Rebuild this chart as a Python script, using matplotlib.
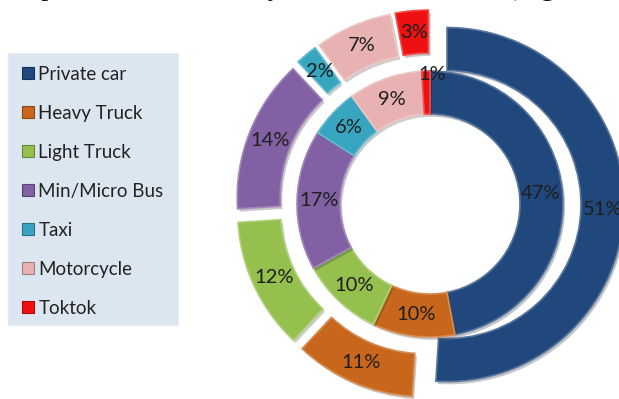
import matplotlib
matplotlib.use("Agg")
import matplotlib.pyplot as plt
import matplotlib.patheffects as pe
from matplotlib.patches import Patch, Rectangle
from matplotlib.colors import to_rgb

# Vehicle classes and their shares (%) in the two rings
categories = ["Private car", "Heavy Truck", "Light Truck", "Min/Micro Bus",
              "Taxi", "Motorcycle", "Toktok"]
outer_share = [51, 11, 12, 14, 2, 7, 3]
inner_share = [47, 10, 10, 17, 6, 9, 1]
colors = ["#21487c", "#c8671b", "#95c04e", "#8160a4",
          "#37a5c0", "#e8b2b2", "#ee1111"]
caption = ", represented in motorcycle, toktok and taxi (Figure"


def tint(c, f):
    r, g, b = to_rgb(c)
    if f >= 0:
        return (r + (1 - r) * f, g + (1 - g) * f, b + (1 - b) * f)
    return (r * (1 + f), g * (1 + f), b * (1 + f))


W, H = 619, 399
fig = plt.figure(figsize=(W / 100, H / 100), dpi=100)
fig.patch.set_facecolor("white")
ax = fig.add_axes([0, 0, 1, 1])

cx, cy = 430, H - 204
ring_w = 43
r_out, r_in = 177, 133
label_font = dict(family="Lato", fontsize=14.5, color="#1e1e1e")
shadow = [pe.SimplePatchShadow(offset=(1.5, -2), alpha=0.25), pe.Normal()]

outer_wedges, outer_txt = ax.pie(
    outer_share, radius=r_out, center=(cx, cy), startangle=90,
    counterclock=False, explode=[17] * len(outer_share), colors=colors,
    wedgeprops=dict(width=ring_w, linewidth=1.2),
    autopct=lambda p: f"{p:.0f}%", pctdistance=(r_out - ring_w / 2) / r_out,
    textprops=label_font)[0:3:2]

inner_wedges, inner_txt = ax.pie(
    inner_share, radius=r_in, center=(cx, cy), startangle=90,
    counterclock=False, colors=colors,
    wedgeprops=dict(width=ring_w, linewidth=1.2),
    autopct=lambda p: f"{p:.0f}%", pctdistance=(r_in - ring_w / 2) / r_in,
    textprops=label_font)[0:3:2]

for w, c in zip(list(outer_wedges) + list(inner_wedges), colors * 2):
    w.set_edgecolor(tint(c, 0.25))
    w.set_path_effects(shadow)

# the tiny inner slice carries its label near the rim
x, y = inner_txt[-1].get_position()
inner_txt[-1].set_position((cx + (x - cx) * 1.16 + 6, cy + (y - cy) * 1.16))

ax.set_xlim(0, W)
ax.set_ylim(0, H)
ax.set_aspect("equal")
ax.axis("off")

# legend panel
ax.add_patch(Rectangle((8, H - 325), 170, 272, facecolor="#dce6f1",
                       edgecolor="#e4ebf4", linewidth=0.8, zorder=0))
handles = [Patch(facecolor=c, edgecolor=tint(c, -0.3), linewidth=0.8)
           for c in colors]
fig.legend(handles, categories, loc="upper left",
           bbox_to_anchor=(22 / W, 1 - 66 / H), frameon=False,
           prop=dict(family="Lato", size=13.5), labelcolor="#222222",
           handlelength=0.62, handleheight=0.62, handletextpad=0.25,
           labelspacing=1.17, borderpad=0, borderaxespad=0)

# running text line of the page, cut by the top edge
fig.text(5 / W, 1 + 5 / H, caption, family="Liberation Serif",
         fontsize=20.5, va="baseline", ha="left", color="#111111")

fig.savefig("out.png", dpi=100)
